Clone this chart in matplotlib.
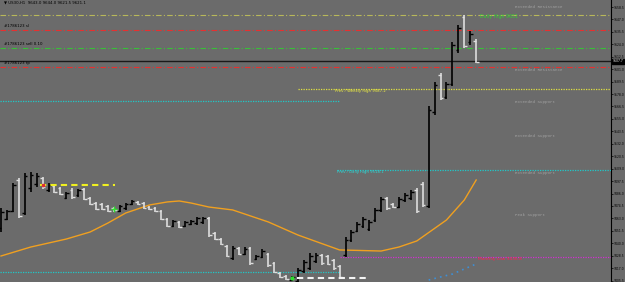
import matplotlib.pyplot as plt

# hourly bars (price)
opens = [9454.1, 9462.4, 9469.8, 9498.5, 9468.0, 9491.1, 9494.8, 9500.4, 9489.3, 9493.0,
         9491.1, 9481.9, 9489.3, 9484.6, 9490.2, 9481.9, 9477.2, 9476.3, 9474.5, 9472.6,
         9469.8, 9472.6, 9476.3, 9478.2, 9477.2, 9473.5, 9472.6, 9469.8, 9462.4, 9456.0,
         9459.7, 9456.0, 9457.8, 9458.7, 9459.7, 9463.4, 9449.5, 9443.9, 9437.5, 9426.4,
         9435.6, 9430.1, 9435.6, 9425.4, 9427.3, 9430.1, 9421.7, 9412.5, 9409.7, 9406.0,
         9405.1, 9414.3, 9417.1, 9423.6, 9429.1, 9428.2, 9424.5, 9419.0, 9429.1, 9443.0,
         9451.3, 9456.0, 9453.2, 9461.5, 9470.8, 9481.9, 9476.3, 9473.5, 9480.0, 9481.9,
         9489.3, 9494.8, 9474.5, 9561.4, 9595.6, 9575.3, 9587.3, 9618.8, 9649.3, 9626.2,
         9627.1]
highs = [9472.6, 9470.8, 9495.7, 9500.4, 9505.0, 9505.9, 9505.0, 9501.3, 9495.7, 9493.9,
         9492.0, 9487.4, 9491.1, 9490.2, 9491.1, 9482.8, 9478.2, 9477.2, 9475.4, 9473.5,
         9475.4, 9477.2, 9480.0, 9479.1, 9478.2, 9474.5, 9473.5, 9470.8, 9463.4, 9461.5,
         9460.6, 9460.6, 9461.5, 9464.3, 9464.3, 9464.3, 9450.4, 9444.9, 9438.4, 9437.5,
         9436.5, 9436.5, 9436.5, 9429.1, 9434.7, 9431.0, 9422.7, 9413.4, 9410.6, 9409.7,
         9417.1, 9424.5, 9431.0, 9431.0, 9430.1, 9429.1, 9425.4, 9419.9, 9445.8, 9452.3,
         9459.7, 9464.3, 9461.5, 9472.6, 9482.8, 9482.8, 9477.2, 9482.8, 9486.5, 9489.3,
         9491.1, 9496.7, 9567.0, 9589.2, 9597.5, 9589.2, 9626.2, 9641.9, 9651.1, 9636.3,
         9628.9]
lows = [9450.4, 9461.5, 9468.9, 9463.4, 9466.1, 9487.4, 9492.0, 9490.2, 9487.4, 9486.5,
        9484.6, 9480.9, 9480.9, 9482.8, 9480.0, 9475.4, 9470.8, 9470.8, 9468.9, 9468.9,
        9468.9, 9470.8, 9475.4, 9475.4, 9471.7, 9470.8, 9468.9, 9461.5, 9455.0, 9455.0,
        9454.1, 9455.0, 9456.9, 9456.9, 9457.8, 9445.8, 9443.0, 9438.4, 9427.3, 9424.5,
        9429.1, 9429.1, 9419.9, 9424.5, 9426.4, 9418.0, 9412.5, 9407.9, 9406.0, 9405.1,
        9404.2, 9412.5, 9415.3, 9421.7, 9419.9, 9419.9, 9415.3, 9407.9, 9427.3, 9441.2,
        9450.4, 9454.1, 9451.3, 9459.7, 9468.9, 9470.8, 9472.6, 9472.6, 9478.2, 9480.0,
        9468.0, 9473.5, 9472.6, 9558.6, 9572.5, 9573.4, 9585.5, 9616.0, 9620.6, 9623.4,
        9606.7]
closes = [9468.9, 9469.8, 9493.9, 9465.2, 9502.2, 9503.1, 9502.2, 9492.0, 9493.9, 9487.4,
          9485.6, 9486.5, 9482.8, 9489.3, 9480.9, 9476.3, 9471.7, 9471.7, 9469.8, 9470.8,
          9474.5, 9476.3, 9479.1, 9476.3, 9472.6, 9471.7, 9469.8, 9462.4, 9456.0, 9460.6,
          9455.0, 9459.7, 9460.6, 9463.4, 9463.4, 9447.6, 9443.9, 9439.3, 9428.2, 9435.6,
          9430.1, 9434.7, 9421.7, 9428.2, 9432.8, 9419.9, 9413.4, 9408.8, 9406.9, 9408.8,
          9415.3, 9422.7, 9428.2, 9429.1, 9421.7, 9420.8, 9417.1, 9408.8, 9443.0, 9450.4,
          9457.8, 9462.4, 9459.7, 9470.8, 9480.9, 9472.6, 9473.5, 9480.9, 9484.6, 9487.4,
          9469.8, 9475.4, 9563.3, 9586.4, 9574.4, 9587.3, 9623.4, 9639.1, 9622.5, 9633.6,
          9607.7]

# moving averages
ma_x = [0, 5, 11, 15, 18, 21, 25, 28, 30, 32, 35, 39, 45, 50, 57, 64, 67, 70, 75, 78, 80]
ma_y = [9428.2, 9436.5, 9443.9, 9450.4, 9458.7, 9468.0, 9475.4, 9478.2, 9479.1, 9477.2,
        9473.5, 9470.8, 9459.7, 9447.6, 9433.8, 9432.8, 9436.5, 9442.1, 9461.5, 9480.0, 9498.5]
slow_x = [72, 74, 76, 78, 80]
slow_y = [9406.0, 9408.8, 9411.5, 9416.2, 9420.8]

# order lines
sl_level = 9637.3
entry_level = 9620.6
tp_level = 9603.0
daily_high = 9651.1

# pivot levels
weekly_high = 9582.7
cyan_upper = 9571.8
daily_prev_high = 9507.8
monthly_low = 9427.3
cyan_lower = 9413.4

zone_labels = ['Extended Resistance', 'Extended Resistance', 'Extended Support',
               'Extended Support', 'Extended Support', 'Peak Support']
zone_prices = [9658.5, 9600.2, 9571.0, 9539.5, 9505.0, 9466.5]

ytick_vals = [9658.5, 9647.0, 9635.5, 9624.0, 9612.5, 9601.0, 9589.5, 9578.0, 9566.5,
              9555.0, 9543.5, 9532.0, 9520.5, 9509.0, 9497.5, 9486.0, 9474.5, 9463.0,
              9451.5, 9440.0, 9428.5, 9417.0, 9405.5]

bg = '#6b6b6b'
fig = plt.figure(figsize=(6.25, 2.82), dpi=100, facecolor=bg)
ax = fig.add_axes([0, 0, 611 / 625, 1], facecolor=bg)
ax.set_xlim(-0.17, 102.7)
ax.set_ylim(9404.15, 9665)

n = len(closes)
idx = list(range(n))
cols = ['#000000' if c >= o else '#dedede' for o, c in zip(opens, closes)]
ax.vlines(idx, lows, highs, colors=cols, linewidth=1.2, zorder=4)
ax.hlines(opens, [i - 0.45 for i in idx], idx, colors=cols, linewidth=1.0, zorder=4)
ax.hlines(closes, idx, [i + 0.45 for i in idx], colors=cols, linewidth=1.0, zorder=4)

ax.plot(ma_x, ma_y, color='#f0a020', linewidth=1.0, zorder=3)
ax.plot(slow_x, slow_y, color='#3d8fd6', linewidth=1.2, linestyle=(0, (1, 2.5)), zorder=3)

dashdot = (0, (5, 2, 1, 2))
dotted = (0, (1, 1))
xmax = 102.7
ax.axhline(daily_high, color='#b8b85a', linewidth=0.8, linestyle=dashdot)
ax.axhline(sl_level, color='#e83030', linewidth=0.8, linestyle=dashdot)
ax.axhline(entry_level, color='#38c038', linewidth=0.8, linestyle=dashdot)
ax.axhline(closes[-1] + 0.6, color='#1a1a1a', linewidth=1.0)
ax.axhline(tp_level, color='#e83030', linewidth=0.8, linestyle=dashdot)

ax.hlines(weekly_high, 50, xmax, color='#e0e040', linewidth=0.9, linestyle=dotted)
ax.hlines(cyan_upper, -0.17, 57, color='#20c8c8', linewidth=0.9, linestyle=dotted)
ax.hlines(daily_prev_high, 56.5, xmax, color='#20c8c8', linewidth=0.9, linestyle=dotted)
ax.hlines(monthly_low, 57, xmax, color='#d030d0', linewidth=0.9, linestyle=dotted)
ax.hlines(cyan_lower, -0.17, 57, color='#20c8c8', linewidth=0.9, linestyle=dotted)

ax.hlines(9493.9, 6.6, 19.2, color='#f0f020', linewidth=1.5, linestyle=(0, (3, 2)), zorder=5)
ax.hlines(9407.9, 49.8, 61.4, color='#f4f4f4', linewidth=1.5, linestyle=(0, (3, 2)), zorder=5)
ax.plot(19, 9471.7, marker='+', color='#30e030', markersize=4, zorder=6)
ax.plot(49, 9407.9, marker='o', color='#30e030', markersize=2, zorder=6)
ax.plot(7, 9493.9, marker='s', color='#e03030', markersize=1.5, zorder=6)

tiny = 2.8
ax.text(0.5, 9662.5, '\u25bc US30,H1  9643.0 9644.0 9621.5 9621.1', fontsize=tiny,
        color='#000000', va='center')
ax.text(0.5, sl_level + 1.5, '#1786123 sl', fontsize=tiny, color='#000000', va='bottom')
ax.text(0.5, entry_level + 1.5, '#1786123 sell 0.10', fontsize=tiny, color='#000000', va='bottom')
ax.text(0.5, tp_level + 1.5, '#1786123 tp', fontsize=tiny, color='#000000', va='bottom')
ax.text(80.6, 9649.3, 'Daily High 9651', fontsize=3.4, color='#30d030', va='center')
ax.text(56.3, weekly_high - 1.8, 'Prev / Weekly high 9587.2', fontsize=tiny,
        color='#f0f040', va='center')
ax.text(56.6, daily_prev_high - 1.8, 'Prev / Daily high 9518.1', fontsize=tiny,
        color='#30d8d8', va='center')
ax.text(80.3, monthly_low - 1.8, 'Monthly Low 9436.8', fontsize=3.2,
        color='#ff2050', va='center')
for lab, p in zip(zone_labels, zone_prices):
    ax.text(86.5, p, lab, fontsize=3.0, color='#a2a2a2', va='center',
            family='Liberation Mono')

for s in ['top', 'left', 'bottom']:
    ax.spines[s].set_visible(False)
ax.spines['right'].set_color('#000000')
ax.spines['right'].set_linewidth(0.8)
ax.set_xticks([])
ax.yaxis.tick_right()
ax.set_yticks(ytick_vals)
ax.set_yticklabels(['%.1f' % v for v in ytick_vals])
ax.tick_params(axis='y', length=1.5, width=0.5, color='#000000', labelsize=2.2,
               labelcolor='#000000', pad=0.5)
ax.annotate('%.1f' % closes[-1], xy=(1.0, closes[-1] + 0.6), xycoords=('axes fraction', 'data'),
            xytext=(1, 0), textcoords='offset points', fontsize=2.2, color='#ffffff',
            va='center', bbox=dict(boxstyle='square,pad=0.2', fc='#000000', ec='#000000'),
            annotation_clip=False)

fig.savefig('out.png', dpi=100, facecolor=bg)
